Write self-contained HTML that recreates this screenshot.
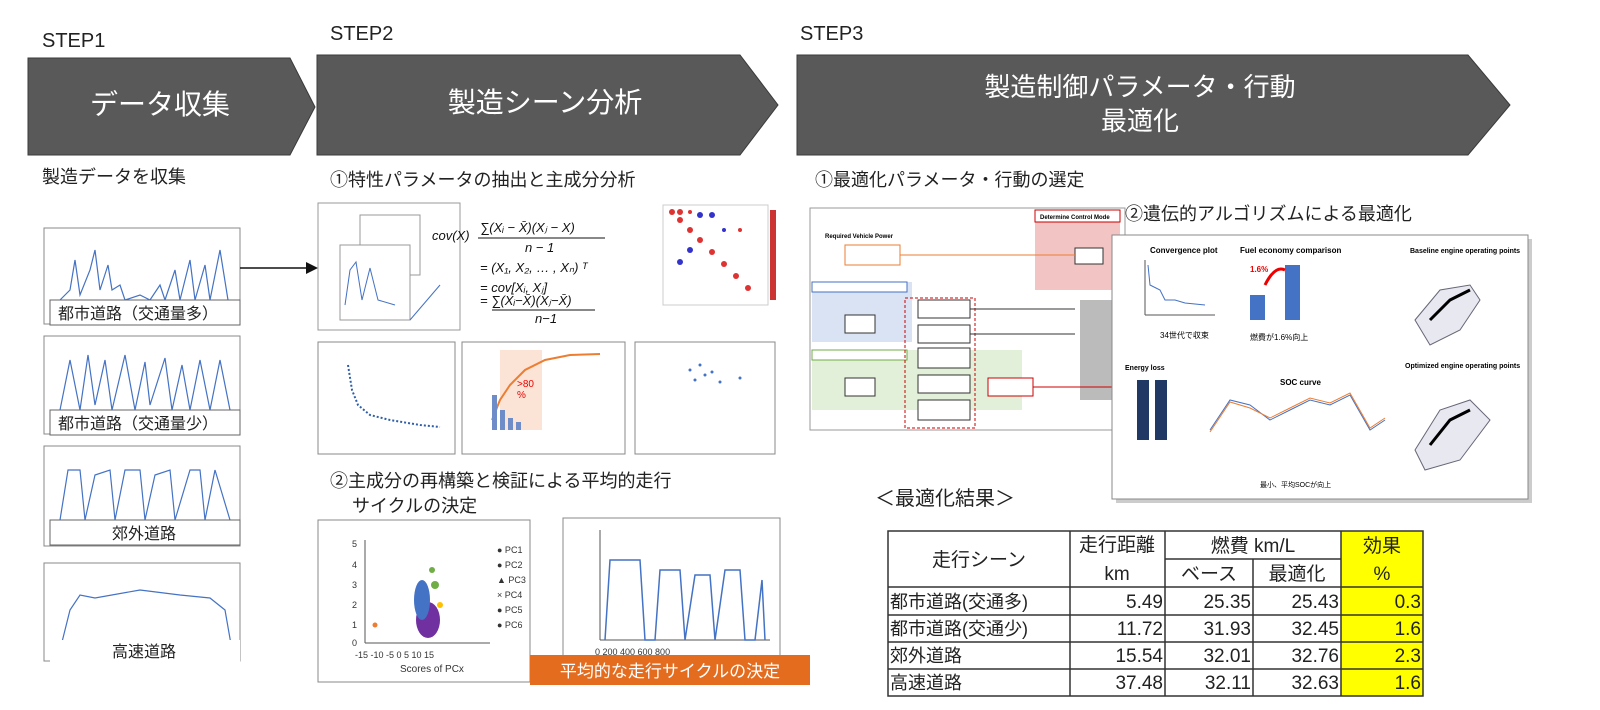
<!DOCTYPE html>
<html><head><meta charset="utf-8"><style>
html,body{margin:0;padding:0;background:#fff;}
svg{display:block;}
text{font-family:"Liberation Sans","Noto Sans CJK JP",sans-serif;}
</style></head><body>
<svg width="1600" height="710" viewBox="0 0 1600 710" xmlns="http://www.w3.org/2000/svg">
<text x="42" y="47" font-size="20" fill="#222">STEP1</text>
<text x="330" y="40" font-size="20" fill="#222">STEP2</text>
<text x="800" y="40" font-size="20" fill="#222">STEP3</text>
<polygon points="28,58 290,58 315,107 290,155 28,155" fill="#595959" stroke="#3a3a3a"/>
<polygon points="317,55 740,55 778,105 740,155 317,155" fill="#595959" stroke="#3a3a3a"/>
<polygon points="797,55 1468,55 1510,105 1468,155 797,155" fill="#595959" stroke="#3a3a3a"/>
<text x="160" y="114" font-size="28" fill="#fff" text-anchor="middle">データ収集</text>
<text x="545" y="112" font-size="28" fill="#fff" text-anchor="middle">製造シーン分析</text>
<text x="1140" y="96" font-size="26" fill="#fff" text-anchor="middle">製造制御パラメータ・行動</text>
<text x="1140" y="130" font-size="26" fill="#fff" text-anchor="middle">最適化</text>
<text x="42" y="183" font-size="18" fill="#222">製造データを収集</text>
<text x="330" y="186" font-size="18" fill="#222">①特性パラメータの抽出と主成分分析</text>
<text x="815" y="186" font-size="18" fill="#222">①最適化パラメータ・行動の選定</text>
<text x="1125" y="220" font-size="18" fill="#222">②遺伝的アルゴリズムによる最適化</text>
<text x="330" y="487" font-size="18" fill="#222">②主成分の再構築と検証による平均的走行</text>
<text x="352" y="512" font-size="18" fill="#222">サイクルの決定</text>
<text x="875" y="505" font-size="20" fill="#222">＜最適化結果＞</text>

<g fill="#fff" stroke="#888">
<rect x="44" y="228" width="196" height="96"/>
<rect x="44" y="336" width="196" height="98"/>
<rect x="44" y="446" width="196" height="100"/>
<rect x="44" y="563" width="196" height="98"/>
</g>
<g fill="none" stroke="#4472c4" stroke-width="1.2">
<polyline points="60,300 70,290 75,260 80,295 90,270 95,250 100,290 108,265 112,290 120,285 125,300 140,295 150,300 160,285 165,300 175,270 180,300 190,260 195,300 205,265 210,300 220,250 228,300"/>
<polyline points="60,410 70,360 80,410 88,355 95,405 105,360 112,410 125,355 135,410 145,362 150,405 165,358 172,410 182,365 190,410 200,360 210,410 220,360 230,410"/>
<polyline points="60,520 68,470 80,470 85,520 95,475 110,470 115,520 125,470 140,470 145,520 155,475 170,470 175,520 190,470 200,470 205,520 215,470 230,520"/>
<polyline points="60,650 70,610 80,595 95,598 140,590 180,595 210,598 225,610 232,650"/>
</g>
<g fill="#fff" stroke="#666">
<rect x="50" y="300" width="190" height="25"/>
<rect x="50" y="410" width="190" height="25"/>
<rect x="50" y="520" width="190" height="25"/>
<rect x="50" y="640" width="190" height="22" stroke="none"/>
</g>
<text x="58" y="319" font-size="16" fill="#222">都市道路（交通量多）</text>
<text x="58" y="429" font-size="16" fill="#222">都市道路（交通量少）</text>
<text x="112" y="539" font-size="16" fill="#222">郊外道路</text>
<text x="112" y="657" font-size="16" fill="#222">高速道路</text>
<line x1="240" y1="268" x2="312" y2="268" stroke="#111" stroke-width="1.5"/>
<polygon points="318,268 306,262 306,274" fill="#111"/>

<g fill="#fff" stroke="#999">
<rect x="318" y="203" width="142" height="127"/>
<rect x="360" y="215" width="60" height="60"/>
<rect x="340" y="245" width="70" height="75"/>
</g>
<polyline points="345,305 350,270 356,262 362,300 370,268 378,300 395,305" fill="none" stroke="#4472c4"/>
<line x1="410" y1="320" x2="440" y2="285" stroke="#4472c4"/>
<g font-family="Liberation Serif,serif" font-style="italic" font-size="13" fill="#111">
<text x="432" y="240">cov(X)</text>
<text x="480" y="232">∑(Xᵢ − X̄)(Xⱼ − X)</text>
<line x1="478" y1="238" x2="605" y2="238" stroke="#111"/>
<text x="525" y="252">n − 1</text>
<text x="480" y="272">= (X₁, X₂, … , Xₙ) ᵀ</text>
<text x="480" y="292">= cov[Xᵢ, Xⱼ]</text>
<text x="480" y="305">= ∑(Xᵢ−X̄)(Xⱼ−X̄)</text>
<line x1="492" y1="310" x2="595" y2="310" stroke="#111"/>
<text x="535" y="323">n−1</text>
</g>
<rect x="663" y="205" width="105" height="100" fill="#fff" stroke="#ccc"/>
<g fill="#d33">
<circle cx="672" cy="212" r="3"/><circle cx="680" cy="220" r="3"/><circle cx="690" cy="230" r="3"/><circle cx="700" cy="240" r="3"/><circle cx="712" cy="252" r="3"/><circle cx="724" cy="264" r="3"/><circle cx="736" cy="276" r="3"/><circle cx="748" cy="288" r="3"/>
<circle cx="680" cy="212" r="3"/><circle cx="690" cy="212" r="2"/><circle cx="740" cy="230" r="2"/>
</g>
<g fill="#33c"><circle cx="700" cy="215" r="3"/><circle cx="712" cy="215" r="3"/><circle cx="690" cy="250" r="3"/><circle cx="680" cy="262" r="3"/><circle cx="724" cy="230" r="2"/></g>
<rect x="770" y="210" width="6" height="90" fill="#c33"/>

<g fill="#fff" stroke="#888">
<rect x="318" y="342" width="137" height="112"/>
<rect x="462" y="342" width="163" height="112"/>
<rect x="635" y="342" width="140" height="112"/>
</g>
<polyline points="348,365 352,390 358,405 370,415 390,420 420,425 440,427" fill="none" stroke="#2e5ea8" stroke-width="2" stroke-dasharray="2,2"/>
<rect x="500" y="350" width="42" height="80" fill="#fbe3d6"/>
<polyline points="492,420 500,400 510,385 525,370 545,360 570,355 600,354" fill="none" stroke="#ed7d31" stroke-width="2"/>
<g fill="#6d8cc8"><rect x="492" y="395" width="5" height="35"/><rect x="500" y="410" width="5" height="20"/><rect x="508" y="418" width="5" height="12"/><rect x="516" y="422" width="5" height="8"/></g>
<text x="517" y="387" font-size="10" fill="#e00">&gt;80</text>
<text x="517" y="398" font-size="10" fill="#e00">%</text>
<g fill="#4472c4"><circle cx="690" cy="370" r="1.5"/><circle cx="700" cy="365" r="1.5"/><circle cx="705" cy="375" r="1.5"/><circle cx="712" cy="372" r="1.5"/><circle cx="695" cy="380" r="1.5"/><circle cx="720" cy="382" r="1.5"/><circle cx="740" cy="378" r="1.5"/></g>

<rect x="318" y="520" width="212" height="162" fill="#fff" stroke="#888"/>
<rect x="563" y="518" width="217" height="142" fill="#fff" stroke="#888"/>
<line x1="365" y1="540" x2="365" y2="643" stroke="#555"/>
<line x1="365" y1="643" x2="490" y2="643" stroke="#555"/>
<g font-size="9" fill="#333">
<text x="352" y="547">5</text><text x="352" y="568">4</text><text x="352" y="588">3</text><text x="352" y="608">2</text><text x="352" y="628">1</text><text x="352" y="646">0</text>
<text x="355" y="658">-15 -10  -5   0   5  10  15</text>
<text x="400" y="672" font-size="10">Scores of PCx</text>
</g>
<g fill="#7030a0"><ellipse cx="428" cy="620" rx="12" ry="18"/><ellipse cx="422" cy="600" rx="8" ry="20" fill="#4472c4"/><circle cx="435" cy="585" r="4" fill="#70ad47"/><circle cx="432" cy="570" r="3" fill="#70ad47"/><circle cx="440" cy="605" r="3" fill="#ffc000"/></g>
<circle cx="375" cy="625" r="2.5" fill="#ed7d31"/>
<g font-size="9" fill="#333"><text x="497" y="553">● PC1</text><text x="497" y="568">● PC2</text><text x="497" y="583">▲ PC3</text><text x="497" y="598">× PC4</text><text x="497" y="613">● PC5</text><text x="497" y="628">● PC6</text></g>
<line x1="600" y1="530" x2="600" y2="640" stroke="#555"/><line x1="600" y1="640" x2="770" y2="640" stroke="#555"/>
<polyline points="605,640 610,560 640,560 645,640 655,640 660,570 680,570 685,640 695,575 710,575 715,640 725,570 740,570 745,640 755,640 762,580 765,640" fill="none" stroke="#4472c4" stroke-width="1.5"/>
<g font-size="9" fill="#333"><text x="595" y="655">0  200  400  600  800</text></g>
<rect x="530" y="655" width="280" height="30" fill="#e46c1f"/>
<text x="670" y="677" font-size="17" fill="#fff" text-anchor="middle">平均的な走行サイクルの決定</text>

<rect x="810" y="208" width="315" height="222" fill="#fff" stroke="#999"/>
<rect x="1035" y="210" width="85" height="80" fill="#f2c4c4"/>
<rect x="1035" y="210" width="85" height="12" fill="#fff" stroke="#c00"/>
<text x="1040" y="219" font-size="6" font-weight="bold" fill="#000">Determine Control Mode</text>
<rect x="812" y="282" width="100" height="60" fill="#dae3f3"/>
<rect x="812" y="350" width="210" height="60" fill="#e2f0d9"/>
<rect x="1080" y="300" width="40" height="100" fill="#bbb"/>
<text x="825" y="238" font-size="6" font-weight="bold">Required Vehicle Power</text>
<rect x="845" y="245" width="55" height="20" fill="#fff" stroke="#ed7d31"/>
<rect x="812" y="282" width="95" height="10" fill="#fff" stroke="#4472c4"/>
<rect x="812" y="350" width="95" height="10" fill="#fff" stroke="#70ad47"/>
<rect x="905" y="298" width="70" height="130" fill="none" stroke="#c00" stroke-dasharray="3,2"/>
<g fill="#fff" stroke="#333"><rect x="918" y="300" width="52" height="18"/><rect x="918" y="325" width="52" height="18"/><rect x="918" y="348" width="52" height="20"/><rect x="918" y="375" width="52" height="18"/><rect x="918" y="400" width="52" height="20"/><rect x="845" y="315" width="30" height="18"/><rect x="845" y="378" width="30" height="18"/><rect x="1075" y="248" width="28" height="16"/><rect x="988" y="378" width="45" height="18" stroke="#c00"/></g>
<line x1="900" y1="255" x2="1075" y2="255" stroke="#ed7d31"/>
<line x1="970" y1="309" x2="1075" y2="309" stroke="#333"/><line x1="970" y1="334" x2="1075" y2="334" stroke="#333"/>
<line x1="1033" y1="387" x2="1120" y2="387" stroke="#c00"/>

<rect x="1116" y="239" width="416" height="264" fill="#ccc"/>
<rect x="1112" y="235" width="416" height="264" fill="#fff" stroke="#888"/>
<text x="1150" y="253" font-size="8" font-weight="bold">Convergence plot</text>
<polyline points="1148,265 1150,285 1160,290 1165,300 1175,300 1185,303 1205,305" fill="none" stroke="#4472c4"/>
<line x1="1145" y1="260" x2="1145" y2="315" stroke="#555"/><line x1="1145" y1="315" x2="1215" y2="315" stroke="#555"/>
<text x="1160" y="338" font-size="8">34世代で収束</text>
<text x="1240" y="253" font-size="8" font-weight="bold">Fuel economy comparison</text>
<rect x="1250" y="295" width="15" height="25" fill="#4472c4"/><rect x="1285" y="265" width="15" height="55" fill="#4472c4"/>
<path d="M1265,285 Q1275,265 1285,270" fill="none" stroke="#e00" stroke-width="3"/>
<text x="1250" y="272" font-size="8" fill="#e00" font-weight="bold">1.6%</text>
<text x="1250" y="340" font-size="8">燃費が1.6%向上</text>
<text x="1410" y="253" font-size="7" font-weight="bold">Baseline engine operating points</text>
<path d="M1415,320 L1440,290 L1470,285 L1480,300 L1460,330 L1430,345 Z" fill="#e8e8f0" stroke="#667"/>
<polyline points="1430,320 1450,300 1470,290" stroke="#000" stroke-width="3" fill="none"/>
<text x="1405" y="368" font-size="7" font-weight="bold">Optimized engine operating points</text>
<path d="M1415,450 L1440,410 L1470,400 L1490,420 L1460,460 L1425,470 Z" fill="#e8e8f0" stroke="#667"/>
<polyline points="1430,445 1450,420 1470,410" stroke="#000" stroke-width="3" fill="none"/>
<text x="1125" y="370" font-size="7" font-weight="bold">Energy loss</text>
<rect x="1137" y="380" width="12" height="60" fill="#1f3864"/><rect x="1155" y="380" width="12" height="60" fill="#1f3864"/>
<text x="1280" y="385" font-size="8" font-weight="bold">SOC curve</text>
<polyline points="1210,430 1230,400 1250,405 1270,420 1290,410 1310,400 1330,405 1350,395 1370,430 1385,420" fill="none" stroke="#4472c4"/>
<polyline points="1210,432 1230,402 1250,408 1270,418 1290,408 1310,398 1330,403 1350,393 1370,428 1385,418" fill="none" stroke="#ed7d31"/>
<text x="1260" y="487" font-size="7">最小、平均SOCが向上</text>

<g fill="#ffff00"><rect x="1341" y="531" width="82" height="165"/></g>
<g stroke="#333" stroke-width="1.5" fill="none">
<rect x="888" y="531" width="535" height="165"/>
<line x1="1070" y1="531" x2="1070" y2="696"/>
<line x1="1165" y1="531" x2="1165" y2="696"/>
<line x1="1253" y1="559" x2="1253" y2="696"/>
<line x1="1341" y1="531" x2="1341" y2="696"/>
<line x1="1165" y1="559" x2="1341" y2="559"/>
<line x1="888" y1="587" x2="1423" y2="587"/>
<line x1="888" y1="615" x2="1423" y2="615"/>
<line x1="888" y1="642" x2="1423" y2="642"/>
<line x1="888" y1="669" x2="1423" y2="669"/>
</g>
<g font-size="19" fill="#222">
<text x="979" y="566" text-anchor="middle">走行シーン</text>
<text x="1117" y="551" text-anchor="middle">走行距離</text>
<text x="1117" y="580" text-anchor="middle">km</text>
<text x="1253" y="552" text-anchor="middle">燃費 km/L</text>
<text x="1209" y="580" text-anchor="middle">ベース</text>
<text x="1297" y="580" text-anchor="middle">最適化</text>
<text x="1382" y="552" text-anchor="middle">効果</text>
<text x="1382" y="580" text-anchor="middle">%</text>
</g>
<g font-size="18" fill="#222">
<text x="890" y="608">都市道路(交通多)</text>
<text x="890" y="635">都市道路(交通少)</text>
<text x="890" y="662">郊外道路</text>
<text x="890" y="689">高速道路</text>
</g>
<g font-size="19" fill="#222" text-anchor="end">
<text x="1163" y="608">5.49</text><text x="1251" y="608">25.35</text><text x="1339" y="608">25.43</text><text x="1421" y="608">0.3</text>
<text x="1163" y="635">11.72</text><text x="1251" y="635">31.93</text><text x="1339" y="635">32.45</text><text x="1421" y="635">1.6</text>
<text x="1163" y="662">15.54</text><text x="1251" y="662">32.01</text><text x="1339" y="662">32.76</text><text x="1421" y="662">2.3</text>
<text x="1163" y="689">37.48</text><text x="1251" y="689">32.11</text><text x="1339" y="689">32.63</text><text x="1421" y="689">1.6</text>
</g>
</svg>
</body></html>
